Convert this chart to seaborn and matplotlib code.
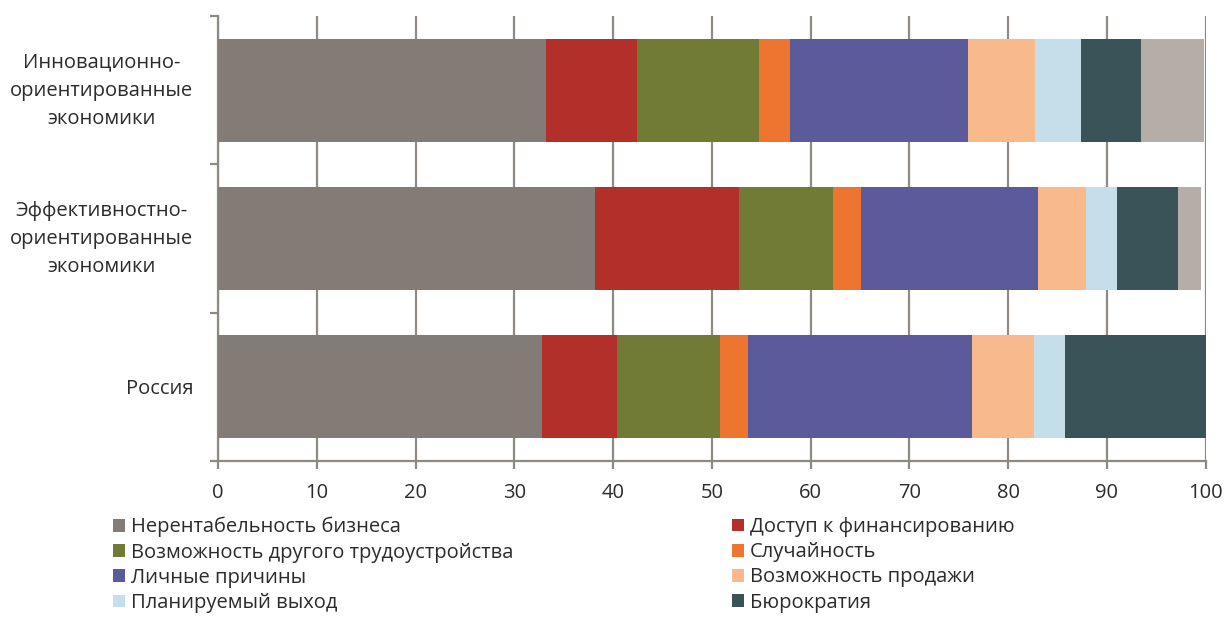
import matplotlib
matplotlib.use("Agg")
import matplotlib.pyplot as plt
import matplotlib.transforms as mtransforms
from matplotlib.patches import Patch
import seaborn as sns
import pandas as pd
import numpy as np

# Категории (группы стран)
groups = ["Инновационно-\nориентированные\nэкономики",
          "Эффективностно-\nориентированные\nэкономики",
          "Россия"]

# Причины выхода из бизнеса, %
reasons = ["Нерентабельность бизнеса", "Доступ к финансированию",
           "Возможность другого трудоустройства", "Случайность",
           "Личные причины", "Возможность продажи",
           "Планируемый выход", "Бюрократия", "Прочее"]

nerentabelnost = [33.2, 38.2, 32.8]
finansy = [9.2, 14.6, 7.6]
trudoustroistvo = [12.4, 9.5, 10.4]
sluchainost = [3.1, 2.8, 2.9]
lichnye = [18.0, 17.9, 22.7]
prodazha = [6.8, 4.9, 6.2]
planiruemy = [4.7, 3.1, 3.2]
biurokratiya = [6.1, 6.2, 14.2]
prochee = [6.3, 2.3, 0.0]

colors = ["#827B76", "#B3302A", "#717B36", "#EE7530", "#5B5B9B",
          "#F8BA8C", "#C4DEEA", "#3A5358", "#B5ADA8"]

series = [nerentabelnost, finansy, trudoustroistvo, sluchainost, lichnye,
          prodazha, planiruemy, biurokratiya, prochee]

df = pd.DataFrame({"group": groups})
for name, vals in zip(reasons, series):
    df[name] = vals
cum = df[reasons].cumsum(axis=1)

sns.set_theme(style="white")
plt.rcParams['font.family'] = ['Open Sans', 'DejaVu Sans']

fig = plt.figure(figsize=(12.24, 6.19), dpi=100)
ax = fig.add_axes([218 / 1224, 1 - 461 / 619, (1205.5 - 218) / 1224, (461 - 16) / 619])

# накопленные суммы рисуем от большей к меньшей, чтобы получить стек
for name, col in reversed(list(zip(reasons, colors))):
    d = pd.DataFrame({"group": groups, "val": cum[name].values})
    sns.barplot(data=d, x="val", y="group", order=groups, color=col,
                orient="h", width=0.695, saturation=1, ax=ax, zorder=3,
                linewidth=0)

gridc = "#8F8984"
txtc = "#2b2b2b"
ax.set_xlim(0, 100)
ax.set_ylim(2.5, -0.5)
ax.set_xticks(np.arange(0, 101, 10))
ax.xaxis.grid(True, color=gridc, linewidth=1.6, zorder=0)
ax.set_axisbelow(True)
ax.set_xlabel("")
ax.set_ylabel("")

for s in ["top", "right"]:
    ax.spines[s].set_visible(False)
for s in ["left", "bottom"]:
    ax.spines[s].set_color(gridc)
    ax.spines[s].set_linewidth(1.6)

ax.tick_params(axis="x", which="major", length=6, width=1.6, color=gridc,
               direction="out", bottom=True, pad=10, labelsize=14.5,
               labelcolor=txtc)
ax.set_yticks([-0.5, 0.5, 1.5, 2.5], minor=True)
ax.tick_params(axis="y", which="minor", length=6, width=1.6, color=gridc,
               left=True, direction="out")
ax.tick_params(axis="y", which="major", length=0, pad=18, labelsize=14.5,
               labelcolor=txtc)
for lab in ax.get_yticklabels():
    lab.set_multialignment("center")
    lab.set_linespacing(1.55)
    if "\n" in lab.get_text():
        # многострочные подписи чуть выше, как в оригинале
        lab.set_transform(lab.get_transform() +
                          mtransforms.ScaledTranslation(0, 6 / 100, fig.dpi_scale_trans))

# легенда в две колонки
handles = [Patch(facecolor=c, edgecolor="none") for c in colors[:8]]
left_idx = [0, 2, 4, 6]
right_idx = [1, 3, 5, 7]
for idx, x0 in [(left_idx, 113 / 1224), (right_idx, 732 / 1224)]:
    fig.legend([handles[i] for i in idx], [reasons[i] for i in idx],
               loc="upper left", bbox_to_anchor=(x0, 1 - 517 / 619),
               frameon=False, fontsize=14.5, handlelength=0.6,
               handleheight=0.6, handletextpad=0.3, labelspacing=0.26,
               borderpad=0, borderaxespad=0, labelcolor=txtc)

fig.savefig("out.png", dpi=100, facecolor="white")
